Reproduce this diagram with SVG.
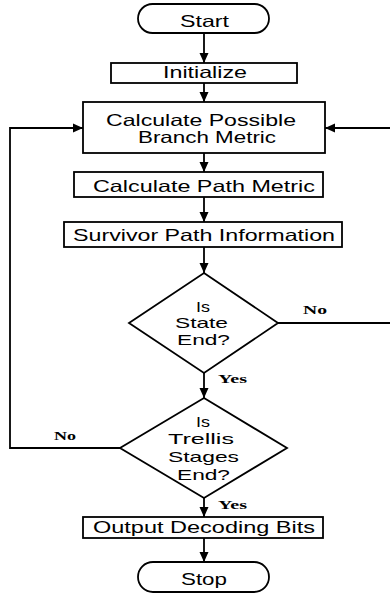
<svg xmlns="http://www.w3.org/2000/svg" width="390" height="595" viewBox="0 0 390 595">
<style>
.s{fill:#fff;stroke:#000;stroke-width:1.8}
.t{font-family:"Liberation Sans",Arial,sans-serif;font-size:16.5px;fill:#000;text-anchor:start}
.d{font-family:"Liberation Sans",Arial,sans-serif;font-size:15px;fill:#000;text-anchor:start}
.l{font-family:"Liberation Serif","Times New Roman",serif;font-size:12px;font-weight:bold;fill:#000}
.c{fill:none;stroke:#000;stroke-width:1.8}
</style>
<defs>
<marker id="a" markerUnits="userSpaceOnUse" markerWidth="10" markerHeight="10" refX="10" refY="5" orient="auto">
<path d="M0,0.5 L10,5 L0,9.5 z" fill="#000"/>
</marker>
</defs>
<rect width="390" height="595" fill="#fff"/>
<g id="connectors">
<line class="c" x1="204" y1="33" x2="204" y2="63" marker-end="url(#a)"/>
<line class="c" x1="204" y1="83" x2="204" y2="102" marker-end="url(#a)"/>
<line class="c" x1="204" y1="153" x2="204" y2="172" marker-end="url(#a)"/>
<line class="c" x1="204" y1="197" x2="204" y2="222" marker-end="url(#a)"/>
<line class="c" x1="204" y1="247" x2="204" y2="273" marker-end="url(#a)"/>
<line class="c" x1="204" y1="373" x2="204" y2="398" marker-end="url(#a)"/>
<line class="c" x1="204" y1="498" x2="204" y2="517" marker-end="url(#a)"/>
<line class="c" x1="204" y1="538" x2="204" y2="562" marker-end="url(#a)"/>
<polyline class="c" points="278,323 392,323 392,128 325,128" marker-end="url(#a)"/>
<polyline class="c" points="120,448 10,448 10,128 83,128" marker-end="url(#a)"/>
<text class="l" x="303" y="314" textLength="24" lengthAdjust="spacingAndGlyphs">No</text>
<text class="l" x="218" y="383" textLength="29" lengthAdjust="spacingAndGlyphs">Yes</text>
<text class="l" x="54" y="440" textLength="22" lengthAdjust="spacingAndGlyphs">No</text>
<text class="l" x="218" y="509" textLength="29" lengthAdjust="spacingAndGlyphs">Yes</text>
</g>
<g id="start">
<rect class="s" x="138" y="4" width="131" height="29" rx="14.5"/>
<text class="t" x="180" y="27" textLength="49" lengthAdjust="spacingAndGlyphs">Start</text>
</g>
<g id="initialize">
<rect class="s" x="111" y="63" width="186" height="20"/>
<text class="t" x="163" y="78" textLength="84" lengthAdjust="spacingAndGlyphs">Initialize</text>
</g>
<g id="branch">
<rect class="s" x="83" y="102" width="242" height="51"/>
<text class="t" x="106" y="126" textLength="190" lengthAdjust="spacingAndGlyphs">Calculate Possible</text>
<text class="t" x="138" y="143" textLength="138" lengthAdjust="spacingAndGlyphs">Branch Metric</text>
</g>
<g id="path">
<rect class="s" x="74" y="172" width="249" height="25"/>
<text class="t" x="93" y="192" textLength="222" lengthAdjust="spacingAndGlyphs">Calculate Path Metric</text>
</g>
<g id="survivor">
<rect class="s" x="64" y="222" width="278" height="25"/>
<text class="t" x="73" y="241" textLength="262" lengthAdjust="spacingAndGlyphs">Survivor Path Information</text>
</g>
<g id="state">
<polygon class="s" points="204,273 278,323 204,373 129,323"/>
<text class="d" x="196" y="312" textLength="14" lengthAdjust="spacingAndGlyphs">Is</text>
<text class="d" x="175" y="328" textLength="53" lengthAdjust="spacingAndGlyphs">State</text>
<text class="d" x="177" y="345" textLength="53" lengthAdjust="spacingAndGlyphs">End?</text>
</g>
<g id="trellis">
<polygon class="s" points="204,398 287,448 204,498 120,448"/>
<text class="d" x="196" y="427" textLength="14" lengthAdjust="spacingAndGlyphs">Is</text>
<text class="d" x="168" y="444" textLength="66" lengthAdjust="spacingAndGlyphs">Trellis</text>
<text class="d" x="168" y="462" textLength="71" lengthAdjust="spacingAndGlyphs">Stages</text>
<text class="d" x="177" y="480" textLength="53" lengthAdjust="spacingAndGlyphs">End?</text>
</g>
<g id="output">
<rect class="s" x="83" y="517" width="240" height="21"/>
<text class="t" x="93" y="533" textLength="222" lengthAdjust="spacingAndGlyphs">Output Decoding Bits</text>
</g>
<g id="stop">
<rect class="s" x="138" y="562" width="131" height="30" rx="15"/>
<text class="t" x="181" y="585" textLength="46" lengthAdjust="spacingAndGlyphs">Stop</text>
</g>
</svg>
